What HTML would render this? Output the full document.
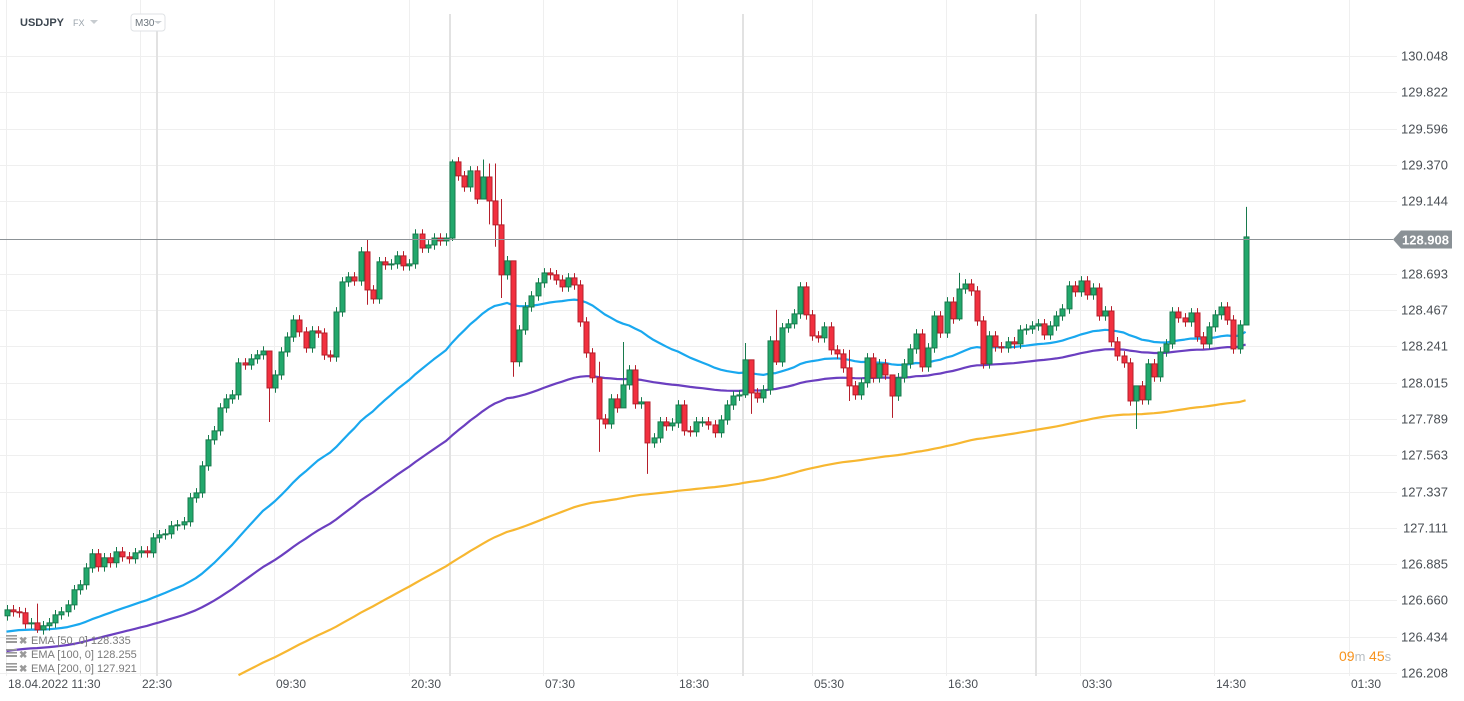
<!DOCTYPE html>
<html><head><meta charset="utf-8"><style>
html,body{margin:0;padding:0;background:#fff;width:1464px;height:701px;overflow:hidden;font-family:"Liberation Sans",sans-serif}
svg{position:absolute;left:0;top:0;overflow:hidden}
</style></head><body>
<svg id="c" width="1464" height="701" xmlns="http://www.w3.org/2000/svg">
<g id="grid"></g>
<g id="ema"></g>
<g id="candles"></g>
<g id="axes"></g>
<g>
<text x="20" y="26" font-size="11" font-weight="bold" fill="#3c4650">USDJPY</text>
<text x="73" y="26" font-size="9" fill="#9aa3ab">FX</text>
<path d="M90 20 L98 20 L94 24 Z" fill="#c7ccd0"/>
<rect x="131" y="14" width="34" height="17" rx="3" fill="#fff" stroke="#dfe2e5"/>
<text x="135" y="26" font-size="10" fill="#6b747c">M30</text>
<path d="M154 21 L162 21 L158 24 Z" fill="#c7ccd0"/>
</g>
<g>
<text x="1339" y="661" font-size="14"><tspan fill="#f7931e">09</tspan><tspan fill="#b8bec3" font-size="13">m </tspan><tspan fill="#f7931e">45</tspan><tspan fill="#b8bec3" font-size="13">s</tspan></text>
</g>
<g id="legend"></g>
</svg>
<script>
// price data
const firstOpen=126.564;
const closePrices=[126.601,126.589,126.583,126.514,126.520,126.477,126.502,126.520,126.570,126.589,126.632,126.726,126.757,126.862,126.950,126.869,126.925,126.894,126.962,126.931,126.919,126.956,126.968,126.956,127.049,127.068,127.074,127.124,127.130,127.149,127.298,127.329,127.497,127.659,127.715,127.858,127.914,127.939,
128.138,128.125,128.163,128.188,128.212,127.982,128.063,128.206,128.299,128.405,128.331,128.231,128.337,128.324,128.187,128.175,128.455,128.642,128.673,128.648,128.829,128.592,128.536,128.767,128.748,128.754,128.804,128.742,128.754,128.940,128.853,128.872,128.915,128.897,128.915,129.389,129.302,
129.233,129.333,129.158,129.295,129.146,128.997,128.686,128.773,128.145,128.343,128.486,128.555,128.636,128.698,128.686,128.654,128.611,128.667,128.623,128.393,128.200,128.045,127.789,127.758,127.914,127.858,128.001,128.094,127.883,127.895,127.640,127.671,127.771,127.746,127.764,127.876,127.715,127.709,127.771,127.771,127.752,127.703,127.783,127.876,127.932,127.939,
128.157,127.951,127.920,127.970,128.275,128.144,128.356,128.381,128.443,128.611,128.437,128.306,128.294,128.362,128.219,128.194,128.107,127.995,127.939,128.014,128.169,128.045,128.132,128.063,127.932,128.045,128.132,128.225,128.318,128.113,128.231,128.430,128.324,128.517,128.412,128.598,128.629,128.586,128.399,128.132,128.306,
128.238,128.231,128.269,128.256,128.343,128.349,128.368,128.381,128.312,128.368,128.430,128.474,128.617,128.580,128.648,128.561,128.604,128.430,128.461,128.269,128.181,128.138,127.901,127.995,127.908,128.132,128.051,128.206,128.256,128.455,128.418,128.393,128.449,128.300,128.256,128.362,128.437,128.486,128.405,128.225,128.374,128.922];
// notable wick extremes: candle index -> [high, low]
const wickIdx=[5,43,59,73,78,79,80,81,83,97,101,105,121,122,126,138,145,156,185,203];
const wickHigh=[126.640,128.212,128.903,129.404,129.404,129.379,129.379,129.158,128.343,128.145,128.268,127.883,128.262,128.032,128.468,128.219,128.063,128.698,127.932,129.109];
const wickLow=[126.458,127.770,128.500,128.897,129.216,129.000,128.861,128.542,128.052,127.584,128.000,127.447,127.920,127.821,128.125,127.901,127.796,128.400,127.727,128.380];
const yTicks=[130.048,129.822,129.596,129.370,129.144,128.908,128.693,128.467,128.241,128.015,127.789,127.563,127.337,127.111,126.885,126.660,126.434,126.208];
const xTickLabels=["18.04.2022  11:30","22:30","09:30","20:30","07:30","18:30","05:30","16:30","03:30","14:30","01:30"];
const emaPeriods=[50,100,200];
const emaSeeds=[126.46,126.34,125.78];
const emaValues=[128.335,128.255,127.921];
const currentPrice=128.908;
</script>
<script>
const NS="http://www.w3.org/2000/svg";
function el(tag,attrs,parent){const e=document.createElementNS(NS,tag);for(const k in attrs)e.setAttribute(k,attrs[k]);parent.appendChild(e);return e;}
const yOf=p=>56+(130.048-p)*160.68;
const xOf=i=>6.5+i*6.104;
const grid=document.getElementById('grid');
const axes=document.getElementById('axes');
const plotR=1397;
yTicks.forEach((v,k)=>{
 if(v===currentPrice)return;
 const y=Math.round(yOf(v))+0.5;
 const l=el('line',{x1:0,x2:plotR,y1:y,y2:y,stroke:'#efefef','stroke-width':1},grid);
 
 
 const t=el('text',{x:1448,y:y+4,'font-size':13,'text-anchor':'end',fill:'#4a4f55'},axes);
 t.textContent=v.toFixed(3);
 
 
});
xTickLabels.forEach((lab,k)=>{
 const x=Math.round(xOf(-0.1+22*k))+0.5;
 const l=el('line',{x1:x,x2:x,y1:0,y2:676,stroke:'#efefef','stroke-width':1},grid);
 
 
 const t=el('text',{x:x+1.5,y:688,'font-size':12,fill:'#4a4f55','xml:space':'preserve'},axes);
 t.textContent=lab;
 
 
});
[24.7,72.7,120.7,168.7].forEach(i=>{
 const x=Math.round(xOf(i));
 const l=el('line',{x1:x,x2:x,y1:14,y2:676,stroke:'#e2e2e2','stroke-width':2},grid);
 
 
});
const emaColors=['#19a8ef','#6b3fc0','#f7b731'];
const emaG=document.getElementById('ema');
emaPeriods.forEach((n,k)=>{
 const a=2/(n+1);let e=emaSeeds[k];const pts=[];
 closePrices.forEach((c,i)=>{e=e+a*(c-e);const y=yOf(e);if(y<=677)pts.push(xOf(i).toFixed(1)+','+y.toFixed(1));});
 const pl=el('polyline',{points:pts.join(' '),fill:'none',stroke:emaColors[k],'stroke-width':2.2,'stroke-linejoin':'round'},emaG);
 
 
});
const cg=document.getElementById('candles');
closePrices.forEach((c,i)=>{
 const o=i===0?firstOpen:closePrices[i-1];
 const up=c>=o;
 let hi=Math.max(o,c)+0.03,lo=Math.min(o,c)-0.03;
 const w=wickIdx.indexOf(i);
 if(w>=0){hi=wickHigh[w];lo=wickLow[w];}
 const x=Math.round(xOf(i));
 const fill=up?'#22a86c':'#f2303f',stroke=up?'#187a4d':'#b51f2b';
 const g=el('g',{},cg);
 
 
 el('line',{x1:x+0.5,x2:x+0.5,y1:yOf(hi),y2:yOf(lo),stroke:stroke,'stroke-width':1},g);
 const yt=yOf(Math.max(o,c)),yb=yOf(Math.min(o,c));
 el('rect',{x:x-2,y:yt,width:5,height:Math.max(1,yb-yt),fill:fill,stroke:stroke,'stroke-width':1},g);
});
const cy=Math.round(yOf(currentPrice))+0.5;
const pl=el('line',{x1:0,x2:1393,y1:cy,y2:cy,stroke:'#8c9296','stroke-width':1},axes);


const tag=el('path',{d:`M1393 ${cy} L1401 ${cy-9} L1452 ${cy-9} L1452 ${cy+9} L1401 ${cy+9} Z`,fill:'#8a9196'},axes);


const tt=el('text',{x:1449,y:cy+5,'font-size':13,'font-weight':'bold','text-anchor':'end',fill:'#fff'},axes);
tt.textContent=currentPrice.toFixed(3);


const lg=document.getElementById('legend');
emaPeriods.forEach((n,k)=>{
 const y=640+k*14;
 const g=el('g',{},lg);
 
 
 el('rect',{x:6,y:y-5,width:11,height:1.6,fill:'#9a9a9a'},g);
 el('rect',{x:6,y:y-2,width:11,height:1.6,fill:'#9a9a9a'},g);
 el('rect',{x:6,y:y+1,width:11,height:2,fill:'#9a9a9a'},g);
 const x=el('text',{x:19,y:y+4,'font-size':10,fill:'#9a9a9a','font-weight':'bold'},g);x.textContent='✖';
 const t=el('text',{x:31,y:y+4,'font-size':11,fill:'#7a7a7a','xml:space':'preserve'},g);
 t.textContent='EMA  ['+n+',  0]  '+emaValues[k].toFixed(3);
});
</script>
</body></html>
